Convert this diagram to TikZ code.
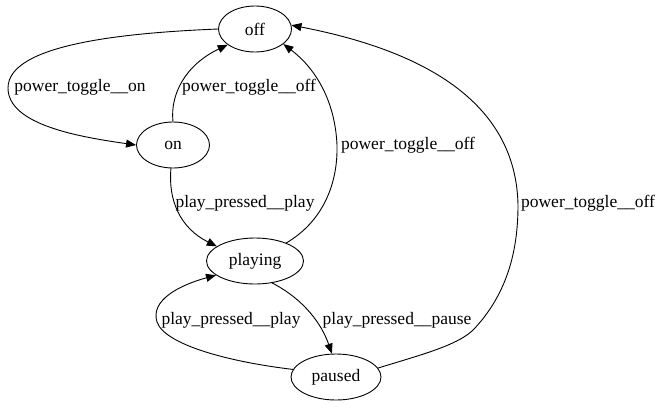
\documentclass[tikz,border=0pt]{standalone}
\usepackage{fontspec}
\setmainfont{Liberation Serif}
\usetikzlibrary{shapes.geometric, arrows.meta}

\begin{document}
\begin{tikzpicture}[x=1pt, y=-1pt, font=\fontsize{17.5pt}{20pt}\selectfont,
  state/.style={draw, ellipse, minimum height=46pt, inner sep=0pt, line width=0.9pt},
  edgelabel/.style={inner sep=0pt}]

% GLOBAL SETTINGS
\pgfkeys{/tikz/every path/.style={line width=0.9pt, -{Triangle[length=10pt, width=8pt]}}} % draw arrowheads
\useasboundingbox (0,0) rectangle (663,407);

% STATES
\node[state, minimum width=73pt] (off) at (255,29) {off};
\node[state, minimum width=73pt] (on) at (173,145) {on};
\node[state, minimum width=97pt] (playing) at (255,261) {playing};
\node[state, minimum width=90pt] (paused) at (336,377) {paused};

% LABELS
\node[edgelabel] (Lon) at (80,87) {power\_toggle\_\_on};
\node[edgelabel] (Loff1) at (249,87) {power\_toggle\_\_off};
\node[edgelabel] (Lplay1) at (245,203) {play\_pressed\_\_play};
\node[edgelabel] (Loff2) at (408,145) {power\_toggle\_\_off};
\node[edgelabel] (Lpause) at (397,320) {play\_pressed\_\_pause};
\node[edgelabel] (Lplay2) at (231,320) {play\_pressed\_\_play};
\node[edgelabel] (Loff3) at (588,203) {power\_toggle\_\_off};

% EDGES
\draw (off.west) .. controls (120,33) and (8,45) .. (8,88)
  .. controls (8,125) and (80,137) .. (on.west);
\draw (on.north) .. controls (170,95) and (185,65) .. (off.210);
\draw (on.265) .. controls (168,200) and (180,228) .. (playing.159);
\draw (playing.30) .. controls (322,222) and (338,185) .. (337,145)
  .. controls (335,100) and (315,68) .. (off.-28);
\draw (playing.-52) .. controls (305,300) and (322,325) .. (paused.100);
\draw (paused.170) .. controls (230,362) and (165,345) .. (157,322)
  .. controls (150,300) and (180,285) .. (playing.200);
\draw (paused.12) .. controls (420,355) and (460,345) .. (475,328)
  .. controls (510,290) and (518,245) .. (518,205)
  .. controls (516,100) and (420,50) .. (off.6);

\end{tikzpicture}
\end{document}
